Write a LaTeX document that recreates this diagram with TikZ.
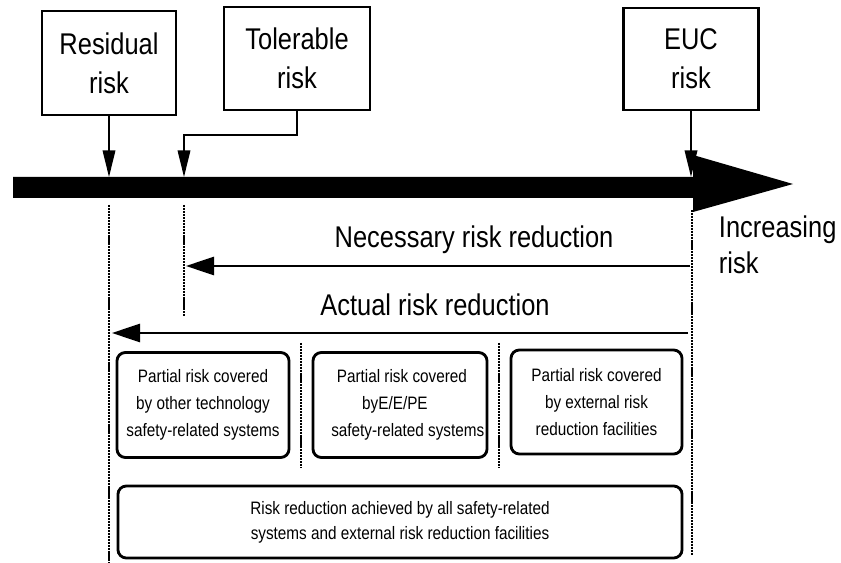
\documentclass[tikz,border=0pt]{standalone}
\usepackage{fontspec}
\setmainfont{Liberation Sans}[FakeStretch=0.85]
\usetikzlibrary{arrows.meta,calc}

\begin{document}
\begin{tikzpicture}[x=0.025cm, y=-0.025cm,
  riskbox/.style={draw, line width=1.5pt, inner sep=0pt, align=center,
    font=\fontsize{21.3}{27.5}\selectfont},
  partbox/.style={draw, line width=2pt, rounded corners=6pt, inner sep=0pt,
    align=center, font=\fontsize{12.8}{19.2}\selectfont},
  biglabel/.style={font=\fontsize{21.3}{27}\selectfont},
  pointer/.style={-{Triangle[length=19pt,width=9pt]}, line width=1.1pt},
  reduction/.style={-{Triangle[length=20pt,width=13pt]}, line width=1.6pt},
  limit/.style={line width=1.8pt, dash pattern=on 1.5pt off 0.6pt}]
  \useasboundingbox (0,0) rectangle (841,563);

  % caixas de risco no topo
  \node[riskbox, minimum width=3.35cm, minimum height=2.6cm] (residual) at (109,63) {Residual\\risk};
  \node[riskbox, minimum width=3.65cm, minimum height=2.575cm] (tolerable) at (297,58.5) {Tolerable\\risk};
  \node[riskbox, minimum width=3.375cm, minimum height=2.55cm] (euc) at (691,59) {EUC\\risk};

  % eixo de risco crescente (seta grossa)
  \coordinate (bartop) at (0,177);
  \fill (13,177) -- (693,177) -- (693,155) -- (793,184) -- (693,212)
    -- (693,198) -- (13,198) -- cycle;
  \node[anchor=west, align=left, font=\fontsize{21.3}{25.6}\selectfont] (increasing) at (714,245) {Increasing\\risk};

  % setas das caixas para o eixo
  \coordinate (tolbend) at (184,135);
  \draw[pointer] (residual.south) -- (residual.south |- bartop);
  \draw[pointer] (tolerable.south) |- (tolbend) -- (tolbend |- bartop);
  \draw[pointer] (euc.south) -- (euc.south |- bartop);

  % limites tracejados
  \draw[limit] (109,205) -- (109,563);
  \draw[limit] (184,205) -- (184,317);
  \draw[limit] (692,210) -- (692,555);
  \draw[limit] (301,343) -- (301,468);
  \draw[limit] (499,343) -- (499,468);

  % reducoes de risco
  \coordinate (necR) at (690,266);
  \coordinate (necL) at (186,266);
  \coordinate (actR) at (688,333);
  \coordinate (actL) at (112,333);
  \draw[reduction] (necR) -- (necL);
  \draw[reduction] (actR) -- (actL);
  \node[biglabel] (necessary) at (474,240) {Necessary risk reduction};
  \node[biglabel] (actual) at (435,305) {Actual risk reduction};

  % parcelas da reducao
  \node[partbox, minimum width=4.3cm, minimum height=2.625cm] (other) at (203,405)
    {Partial risk covered\\by other technology\\safety-related systems};
  \node[partbox, minimum width=4.35cm, minimum height=2.625cm, text width=4.35cm,
    align=flush left] (eepe) at (400,405)
    {\hspace*{17pt}Partial risk covered\\\hspace*{35pt}byE/E/PE\\\hspace*{13pt}safety-related systems};
  \node[partbox, minimum width=4.275cm, minimum height=2.6cm] (external) at (596.5,402)
    {Partial risk covered\\by external risk\\reduction facilities};
  \node[partbox, minimum width=14.1cm, minimum height=1.8cm,
    font=\fontsize{12.8}{17.8}\selectfont] (all) at (400,522)
    {Risk reduction achieved by all safety-related\\systems and external risk reduction facilities};
\end{tikzpicture}
\end{document}
